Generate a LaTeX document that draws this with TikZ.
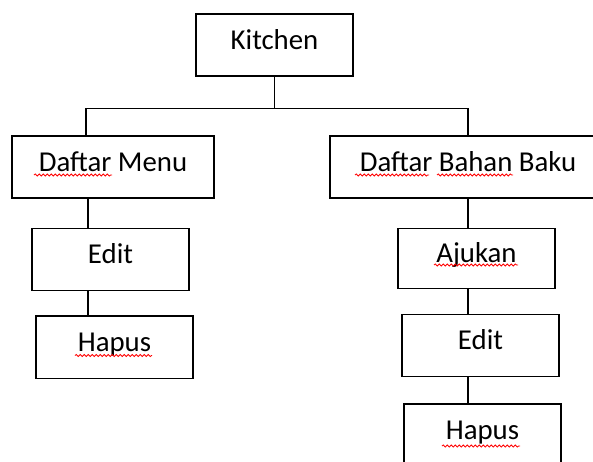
\documentclass[tikz,border=0pt]{standalone}
\usepackage{fontspec}
\setmainfont{Carlito}
\usetikzlibrary{decorations.pathmorphing}
\tikzset{menubox/.style={draw, inner sep=0pt, minimum width=157pt, minimum height=62pt,
    text height=14pt, text depth=6pt, font=\fontsize{28.8}{34}\selectfont},
  spellwave/.style={draw=red, line width=0.8pt, decorate,
    decoration={snake, amplitude=1.1pt, segment length=4pt}}}
\begin{document}
\begin{tikzpicture}[x=1pt, y=-1pt, line width=1.4pt]
                \useasboundingbox (0,0) rectangle (593,461);
                \clip (0,0) rectangle (593,461);
                \node[menubox] (kitchen) at (274.5,45) {Kitchen};
                \node[menubox, minimum width=202pt] (menu) at (113,167) {Daftar Menu};
                \node[menubox, minimum width=276pt] (bahan) at (468,167) {Daftar Bahan Baku};
                \node[menubox] (edita) at (110.5,259.7) {Edit};
                \node[menubox, minimum height=62.7pt] (hapusa) at (114.5,347.3) {Hapus};
                \node[menubox, minimum height=60pt] (ajukan) at (476.5,258.7) {Ajukan};
                \node[menubox, minimum height=61.6pt] (editb) at (480.5,345.5) {Edit};
                \node[menubox] (hapusb) at (482.5,435) {Hapus};
                \draw (kitchen.south) -- ++(0,32) coordinate (split);
                \draw (split) -| ([xshift=-27pt]menu.north);
                \draw (split) -| (bahan.north);
                \draw ([xshift=-25pt]menu.south) -- ([xshift=-25pt]menu.south |- edita.north);
                \draw ([xshift=-25pt]menu.south |- edita.south) -- ([xshift=-25pt]menu.south |- hapusa.north);
                \draw (bahan.south) -- (bahan.south |- ajukan.north);
                \draw (bahan.south |- ajukan.south) -- (bahan.south |- editb.north);
                \draw (bahan.south |- editb.south) -- (bahan.south |- hapusb.north);
                \path[spellwave] ([shift={(-79,8)}]menu.center) -- ([shift={(-1,8)}]menu.center);
                \path[spellwave] ([shift={(-113,8)}]bahan.center) -- ([shift={(-39,8)}]bahan.center);
                \path[spellwave] ([shift={(-31,8)}]bahan.center) -- ([shift={(45,8)}]bahan.center);
                \path[spellwave] ([shift={(-39.5,8.2)}]hapusa.center) -- ([shift={(37.5,8.2)}]hapusa.center);
                \path[spellwave] ([shift={(-42.5,6.3)}]ajukan.center) -- ([shift={(41.5,6.3)}]ajukan.center);
                \path[spellwave] ([shift={(-40.5,11)}]hapusb.center) -- ([shift={(37.5,11)}]hapusb.center);
            \end{tikzpicture}
\end{document}
